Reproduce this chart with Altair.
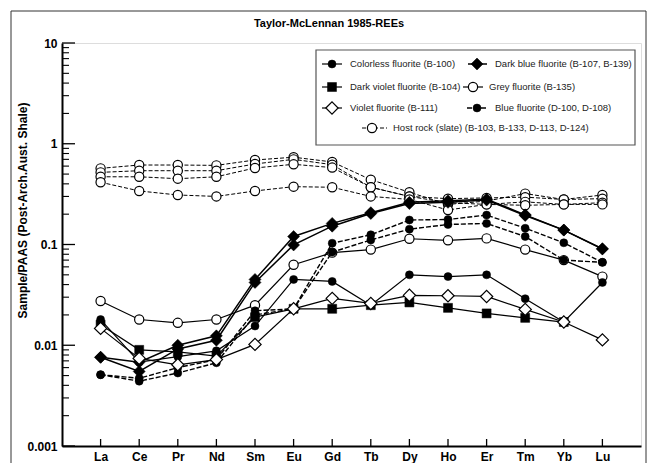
import altair as alt
import pandas as pd

# ---------------- data ----------------
elements = ["La", "Ce", "Pr", "Nd", "Sm", "Eu", "Gd", "Tb", "Dy", "Ho", "Er", "Tm", "Yb", "Lu"]

colorless = [0.018, 0.0068, 0.0077, 0.0088, 0.0155, 0.045, 0.043, 0.025, 0.050, 0.048, 0.050, 0.029, 0.017, 0.042]
dark_blue_1 = [0.0076, 0.0068, 0.0100, 0.0124, 0.045, 0.120, 0.162, 0.207, 0.262, 0.272, 0.282, 0.197, 0.139, 0.090]
dark_blue_2 = [0.0076, 0.0055, 0.0092, 0.0112, 0.042, 0.099, 0.152, 0.203, 0.255, 0.262, 0.276, 0.194, 0.139, 0.091]
dark_violet = [0.016, 0.0090, 0.0086, 0.0078, 0.019, 0.023, 0.0230, 0.025, 0.0266, 0.0235, 0.0207, 0.0187, 0.017, None]
grey = [0.0275, 0.0180, 0.0167, 0.0180, 0.025, 0.063, 0.083, 0.089, 0.114, 0.110, 0.115, 0.089, 0.070, 0.048]
violet = [0.0147, 0.0074, 0.0064, 0.0072, 0.0102, 0.023, 0.0292, 0.026, 0.0313, 0.031, 0.0305, 0.0227, 0.017, 0.0113]
blue_1 = [0.0051, 0.0044, 0.0053, 0.0067, 0.020, 0.023, 0.103, 0.125, 0.175, 0.177, 0.196, 0.145, 0.104, 0.0665]
blue_2 = [0.0051, 0.0047, 0.0060, 0.0072, 0.022, 0.023, 0.084, 0.111, 0.142, 0.158, 0.162, 0.120, 0.070, 0.0665]
host_1 = [0.57, 0.615, 0.615, 0.61, 0.69, 0.735, 0.66, 0.44, 0.33, 0.25, 0.27, 0.32, 0.28, 0.31]
host_2 = [0.52, 0.54, 0.54, 0.54, 0.63, 0.70, 0.62, 0.37, 0.30, 0.285, 0.29, 0.295, 0.28, 0.285]
host_3 = [0.47, 0.47, 0.45, 0.47, 0.575, 0.625, 0.58, 0.37, 0.30, 0.26, 0.25, 0.265, 0.25, 0.26]
host_4 = [0.415, 0.34, 0.31, 0.30, 0.34, 0.375, 0.37, 0.30, 0.28, 0.22, 0.25, 0.245, 0.25, 0.25]

y_major = [0.001, 0.01, 0.1, 1, 10]
y_minor = [k * d for d in [0.001, 0.01, 0.1, 1] for k in range(2, 10)]

title_text = "Taylor-McLennan 1985-REEs"
y_title = "Sample/PAAS (Post-Arch.Aust. Shale)"

labels = {
    "colorless": "Colorless fluorite (B-100)",
    "darkblue": "Dark blue fluorite (B-107, B-139)",
    "darkviolet": "Dark violet fluorite (B-104)",
    "grey": "Grey fluorite (B-135)",
    "violet": "Violet fluorite (B-111)",
    "blue": "Blue fluorite (D-100, D-108)",
    "host": "Host rock (slate) (B-103, B-133, D-113, D-124)",
}

series = [
    ("host_1", "host", host_1), ("host_2", "host", host_2),
    ("host_3", "host", host_3), ("host_4", "host", host_4),
    ("grey", "grey", grey),
    ("blue_1", "blue", blue_1), ("blue_2", "blue", blue_2),
    ("dark_blue_1", "darkblue", dark_blue_1), ("dark_blue_2", "darkblue", dark_blue_2),
    ("colorless", "colorless", colorless),
    ("dark_violet", "darkviolet", dark_violet),
    ("violet", "violet", violet),
]

rows = []
for sample, group, vals in series:
    for el, v in zip(elements, vals):
        if v is not None:
            rows.append({"sample": sample, "group": group, "element": el, "value": v})
df = pd.DataFrame(rows)

# ---------------- styles ----------------
W, H = 579, 403
FONT = "Liberation Sans"

styles = {
    "host": dict(dash=[4, 2], lw=1.0, shape="circle", filled=False, size=85),
    "grey": dict(dash=None, lw=1.2, shape="circle", filled=False, size=85),
    "blue": dict(dash=[5, 2], lw=1.4, shape="circle", filled=True, size=64),
    "darkblue": dict(dash=None, lw=1.5, shape="diamond", filled=True, size=144),
    "colorless": dict(dash=None, lw=1.2, shape="circle", filled=True, size=64),
    "darkviolet": dict(dash=None, lw=1.2, shape="square", filled=True, size=81),
    "violet": dict(dash=None, lw=1.2, shape="diamond", filled=False, size=150),
}

x_axis = alt.Axis(title=None, labelAngle=0, labelFontWeight="bold", labelFontSize=12,
                  labelPadding=5, ticks=False, grid=False, domainWidth=2, domainColor="black",
                  labelColor="black", labelFont=FONT)
y_axis = alt.Axis(values=y_major, format="~g", ticks=False, grid=False, labelFontWeight="bold",
                  labelFontSize=12, labelPadding=5, domainWidth=2, domainColor="black",
                  labelColor="black", labelFont=FONT,
                  title=y_title, titleX=-40, titleY=167, titleAngle=270, titleFontSize=12,
                  titleFontWeight="bold", titleAlign="center", titleBaseline="middle",
                  titleColor="black", titleFont=FONT)

X = alt.X("element:N", sort=elements, scale=alt.Scale(type="point", padding=1), axis=x_axis)
Y = alt.Y("value:Q", scale=alt.Scale(type="log", domain=[0.001, 10]), axis=y_axis)


def point_mark(st):
    if st["filled"]:
        return dict(shape=st["shape"], filled=True, fill="black", stroke="black",
                    strokeWidth=0.5, size=st["size"], opacity=1)
    return dict(shape=st["shape"], filled=True, fill="white", stroke="black",
                strokeWidth=1.2, size=st["size"], opacity=1)


def line_mark(st):
    kw = dict(color="black", strokeWidth=st["lw"])
    if st["dash"]:
        kw["strokeDash"] = st["dash"]
    return kw


layers = []
order = ["host", "grey", "blue", "darkblue", "colorless", "darkviolet", "violet"]
for g in order:
    st = styles[g]
    sub = df[df["group"] == g]
    base = alt.Chart(sub)
    layers.append(base.mark_line(**line_mark(st)).encode(x=X, y=Y, detail="sample:N"))
    layers.append(base.mark_point(**point_mark(st)).encode(x=X, y=Y))

# inward ticks
ymaj_df = pd.DataFrame({"value": y_major})
ymin_df = pd.DataFrame({"value": y_minor})
xt_df = pd.DataFrame({"element": elements})
layers.append(alt.Chart(ymaj_df).mark_rule(color="black", strokeWidth=1.3).encode(
    y=Y, x=alt.value(0), x2=alt.value(13)))
layers.append(alt.Chart(ymin_df).mark_rule(color="black", strokeWidth=1.1).encode(
    y=Y, x=alt.value(0), x2=alt.value(7)))
layers.append(alt.Chart(xt_df).mark_rule(color="black", strokeWidth=1.3).encode(
    x=X, y=alt.value(H), y2=alt.value(H - 7)))

# figure frame
one = pd.DataFrame({"k": [0]})
layers.append(alt.Chart(one).mark_rect(fill=None, stroke="#333", strokeWidth=1).encode(
    x=alt.value(-51), x2=alt.value(584), y=alt.value(-32), y2=alt.value(H + 40)))

# title
layers.append(alt.Chart(pd.DataFrame({"t": [title_text]})).mark_text(
    font=FONT, fontSize=11, fontWeight="bold", align="center", baseline="middle", color="black"
).encode(x=alt.value(267), y=alt.value(-19), text="t:N"))

# legend box
layers.append(alt.Chart(one).mark_rect(fill="white", stroke="#555", strokeWidth=1.2).encode(
    x=alt.value(254), x2=alt.value(573), y=alt.value(7), y2=alt.value(102)))

legend_layout = [
    # group, line x0, line x1, marker x, text x, y
    ("colorless", 260, 280, 270, 288, 21),
    ("darkblue", 406, 425, 415, 433, 21),
    ("darkviolet", 260, 280, 270, 288, 44),
    ("grey", 401, 421, 411, 427, 44),
    ("violet", 260, 280, 270, 288, 65),
    ("blue", 405, 425, 415, 433, 65),
    ("host", 300, 325, 310, 331, 85),
]
for g, x0, x1, mx, tx, yy in legend_layout:
    st = styles[g]
    layers.append(alt.Chart(one).mark_rule(**line_mark(st)).encode(
        x=alt.value(x0), x2=alt.value(x1), y=alt.value(yy)))
    layers.append(alt.Chart(one).mark_point(**point_mark(st)).encode(
        x=alt.value(mx), y=alt.value(yy)))
    layers.append(alt.Chart(pd.DataFrame({"t": [labels[g]]})).mark_text(
        font=FONT, fontSize=9.5, align="left", baseline="middle", color="#222"
    ).encode(x=alt.value(tx), y=alt.value(yy), text="t:N"))

chart = alt.layer(*layers).properties(
    width=W, height=H,
    autosize=alt.AutoSizeParams(type="none"),
    padding={"left": 62, "top": 43, "right": 10, "bottom": 17},
).configure_view(stroke="black", strokeWidth=1.5).configure(font=FONT)

chart.save("out.html", embed_options={"renderer": "svg", "actions": False})
